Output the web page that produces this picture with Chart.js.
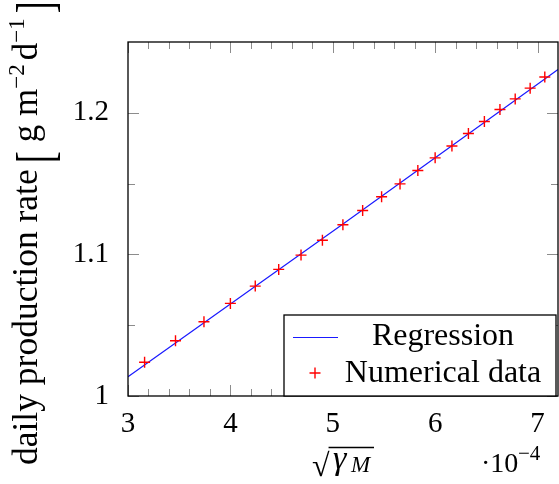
<!DOCTYPE html>
<html>
<head>
<meta charset="utf-8">
<script src="https://cdn.jsdelivr.net/npm/chart.js@4.4.0/dist/chart.umd.min.js"></script>
<style>
  html, body { margin: 0; padding: 0; background: #fff; }
</style>
</head>
<body>
<canvas id="rateChart" width="559" height="484"></canvas>
<script>
// sqrt(gamma_M) in units of 1e-4
const sqrtGamma = [3.162, 3.464, 3.742, 4.0, 4.243, 4.472, 4.690, 4.899, 5.099, 5.292, 5.477,
                   5.657, 5.831, 6.0, 6.164, 6.325, 6.481, 6.633, 6.782, 6.928, 7.071];
const productionRate = [1.0238, 1.039, 1.0524, 1.0654, 1.0776, 1.0894, 1.0995, 1.110, 1.1209, 1.131, 1.1407,
                        1.1498, 1.1593, 1.1682, 1.1766, 1.1854, 1.1939, 1.2023, 1.2098, 1.2174, 1.2253];
const regressionX = [3, 5.1, 7.2];
const regressionY = [1.0136, 1.1215, 1.2306];

const xTicks = [3, 4, 5, 6, 7];
const xMinorTicks = [3.2, 3.4, 3.6, 3.8, 4.2, 4.4, 4.6, 4.8, 5.2, 5.4, 5.6, 5.8, 6.2, 6.4, 6.6, 6.8];
const yTicks = [1, 1.1, 1.2];
const yTickLabels = ['1', '1.1', '1.2'];
const yMinorTicks = [1.05, 1.15];

const serif = '"Liberation Serif", "DejaVu Serif", serif';

// box frame + inward ticks on all four sides
const frame = {
    id: 'frame',
    beforeDatasetsDraw(chart) {
        const { ctx, chartArea: a, scales } = chart;
        ctx.save();
        ctx.strokeStyle = '#8c8c8c';
        ctx.lineWidth = 1;
        const tick = (vals, len, horiz) => {
            vals.forEach(v => {
                ctx.beginPath();
                if (horiz) {
                    const x = Math.round(scales.x.getPixelForValue(v)) + 0.5;
                    ctx.moveTo(x, a.bottom); ctx.lineTo(x, a.bottom - len);
                    ctx.moveTo(x, a.top); ctx.lineTo(x, a.top + len);
                } else {
                    const y = Math.round(scales.y.getPixelForValue(v)) + 0.5;
                    ctx.moveTo(a.left, y); ctx.lineTo(a.left + len, y);
                    ctx.moveTo(a.right, y); ctx.lineTo(a.right - len, y);
                }
                ctx.stroke();
            });
        };
        tick(xTicks, 11, true);
        tick(xMinorTicks, 7, true);
        tick(yTicks, 11, false);
        tick(yMinorTicks, 7, false);
        ctx.restore();
    },
    afterDatasetsDraw(chart) {
        const { ctx, chartArea: a } = chart;
        ctx.save();
        ctx.strokeStyle = '#000';
        ctx.lineWidth = 1.3;
        ctx.strokeRect(a.left, a.top, a.right - a.left, a.bottom - a.top);
        ctx.restore();
    },
    afterDraw(chart) {
        const { ctx, chartArea: a } = chart;
        const ds = chart.data.datasets;
        ctx.save();

        // legend box, bottom right
        const w = 272, h = 81;
        const x0 = a.right - 274, y0 = a.bottom - h;
        ctx.fillStyle = '#fff';
        ctx.fillRect(x0, y0, w, h);
        ctx.strokeStyle = '#000';
        ctx.lineWidth = 1.3;
        ctx.strokeRect(x0, y0, w, h);

        ctx.strokeStyle = ds[0].borderColor;
        ctx.lineWidth = ds[0].borderWidth;
        ctx.beginPath();
        ctx.moveTo(x0 + 9, y0 + 22.5); ctx.lineTo(x0 + 54, y0 + 22.5);
        ctx.stroke();

        ctx.strokeStyle = ds[1].borderColor;
        ctx.lineWidth = ds[1].borderWidth;
        const cx = x0 + 31, cy = y0 + 58, r = 5.5;
        ctx.beginPath();
        ctx.moveTo(cx - r, cy); ctx.lineTo(cx + r, cy);
        ctx.moveTo(cx, cy - r); ctx.lineTo(cx, cy + r);
        ctx.stroke();

        ctx.fillStyle = '#000';
        ctx.font = '32px ' + serif;
        ctx.textAlign = 'center';
        ctx.textBaseline = 'alphabetic';
        ctx.fillText(ds[0].label, x0 + 159, y0 + 30);
        ctx.fillText(ds[1].label, x0 + 159, y0 + 67);

        // y axis title, rotated
        ctx.translate(37, 465);
        ctx.rotate(-Math.PI / 2);
        ctx.textAlign = 'left';
        let t = 0;
        const put = (s, font, dy) => {
            ctx.font = font;
            ctx.fillText(s, t, dy);
            t += ctx.measureText(s).width;
        };
        const bracket = s => {
            ctx.save();
            ctx.font = '36px ' + serif;
            ctx.translate(t, 16);
            ctx.scale(1, 1.45);
            ctx.fillText(s, 0, 0);
            t += ctx.measureText(s).width;
            ctx.restore();
        };
        put('daily production rate', '35.5px ' + serif, 0);
        t += 6;
        bracket('[');
        t += 9;
        put('g m', '35px ' + serif, 0);
        put('\u22122', '23px ' + serif, -13);
        t += 4;
        put('d', '35px ' + serif, 0);
        put('\u22121', '23px ' + serif, -13);
        t += 5;
        bracket(']');
        ctx.setTransform(1, 0, 0, 1, 0, 0);

        // x axis title: sqrt(gamma_M)
        ctx.textAlign = 'left';
        ctx.font = '32px ' + serif;
        ctx.fillText('\u221A', 312, 476);
        const rw = ctx.measureText('\u221A').width;
        ctx.strokeStyle = '#000';
        ctx.lineWidth = 1.3;
        ctx.beginPath();
        ctx.moveTo(312 + rw - 1, 447.5); ctx.lineTo(374, 447.5);
        ctx.stroke();
        ctx.font = 'italic 34px ' + serif;
        ctx.fillText('\u03B3', 333, 469);
        ctx.font = 'italic 23px ' + serif;
        ctx.fillText('M', 351, 472);

        // exponent marker
        ctx.font = '28px ' + serif;
        ctx.fillText('\u00B710', 481, 472);
        ctx.font = '21px ' + serif;
        ctx.fillText('\u22124', 518, 460);
        ctx.restore();
    }
};

const ctx = document.getElementById('rateChart').getContext('2d');

new Chart(ctx, {
    type: 'scatter',
    data: {
        datasets: [{
            label: 'Regression',
            type: 'line',
            data: regressionX.map((x, i) => ({ x: x, y: regressionY[i] })),
            borderColor: '#1a1aff',
            borderWidth: 1.2,
            pointRadius: 0,
            fill: false,
            tension: 0,
            order: 2
        }, {
            label: 'Numerical data',
            data: sqrtGamma.map((x, i) => ({ x: x, y: productionRate[i] })),
            pointStyle: 'cross',
            pointRadius: 5.5,
            borderColor: '#ff0000',
            backgroundColor: '#ff0000',
            borderWidth: 1.4,
            order: 1
        }]
    },
    options: {
        responsive: false,
        animation: false,
        devicePixelRatio: 1,
        layout: { autoPadding: false, padding: { top: 42, right: 1, left: 0, bottom: 0 } },
        plugins: {
            legend: { display: false },
            tooltip: { enabled: false }
        },
        scales: {
            x: {
                type: 'linear',
                min: 3,
                max: 7.2,
                afterBuildTicks: s => { s.ticks = xTicks.map(v => ({ value: v })); },
                afterFit: s => { s.height = 88; s.paddingLeft = 0; s.paddingRight = 0; },
                grid: { display: false },
                border: { display: false },
                ticks: {
                    color: '#000',
                    font: { family: serif, size: 29 },
                    padding: 3,
                    maxRotation: 0,
                    callback: v => String(v)
                }
            },
            y: {
                type: 'linear',
                min: 1,
                max: 1.25,
                afterBuildTicks: s => { s.ticks = yTicks.map(v => ({ value: v })); },
                afterFit: s => { s.width = 128; },
                grid: { display: false },
                border: { display: false },
                ticks: {
                    color: '#000',
                    font: { family: serif, size: 29 },
                    padding: 11,
                    callback: (v, i) => yTickLabels[i]
                }
            }
        }
    },
    plugins: [frame]
});
</script>
</body>
</html>
